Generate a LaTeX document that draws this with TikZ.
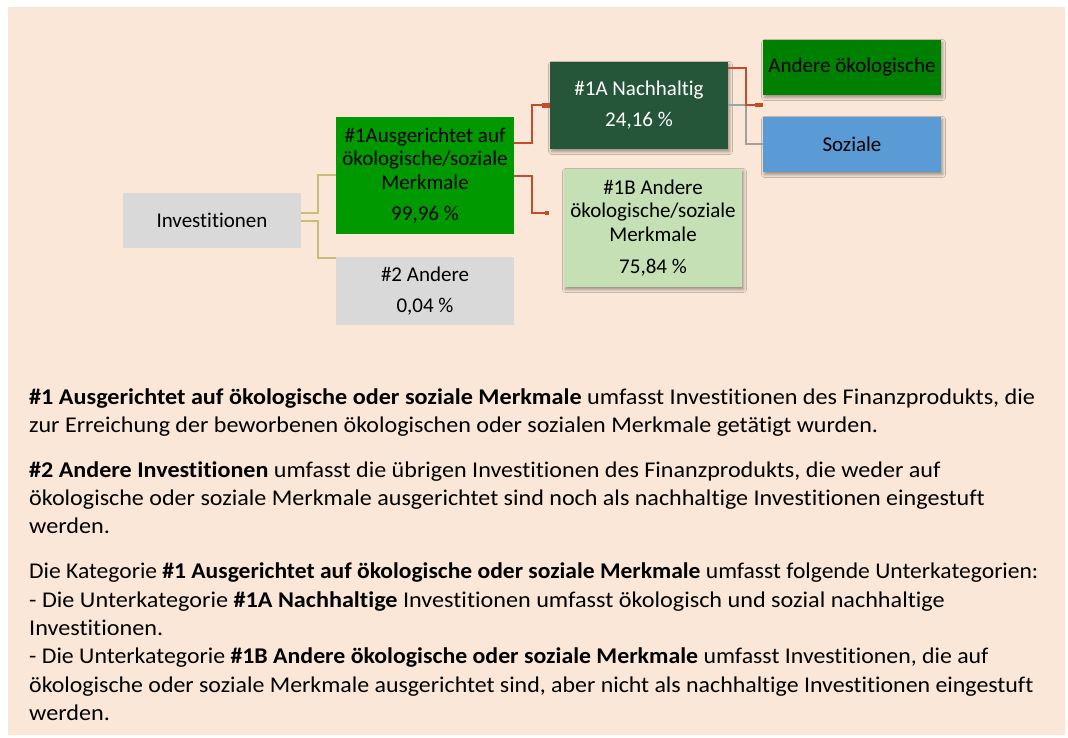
\documentclass[tikz,border=0pt]{standalone}
\usepackage{fontspec}
\setmainfont{Carlito}[Ligatures=NoCommon]
\newfontfamily\bodyfont{Carlito}[Ligatures=NoCommon, FakeStretch=1.075]
\usetikzlibrary{shadows.blur,arrows.meta,calc}
\definecolor{bg}{RGB}{250,231,215}
\definecolor{boxgray}{RGB}{217,217,217}
\definecolor{midgreen}{RGB}{0,153,0}
\definecolor{darkgreen}{RGB}{38,86,58}
\definecolor{lightgreen}{RGB}{197,224,180}
\definecolor{puregreen}{RGB}{0,128,0}
\definecolor{skyblue}{RGB}{91,155,213}
\definecolor{olivecon}{RGB}{201,189,120}
\definecolor{redcon}{RGB}{196,76,44}
\definecolor{graycon}{RGB}{160,160,160}
\begin{document}
\begin{tikzpicture}[x=1pt,y=-1pt,
  box/.style={rectangle, inner sep=0pt, minimum width=178pt, align=center,
    font=\fontsize{21}{23.5}\selectfont},
  shad/.style={blur shadow={shadow xshift=1.5pt, shadow yshift=-2.5pt,
    shadow blur steps=6, shadow opacity=40, shadow blur radius=3pt}},
  olivelink/.style={draw=olivecon, line width=2pt},
  redlink/.style={draw=redcon, line width=2pt},
  graylink/.style={draw=graycon, line width=2pt},
  bodyline/.style={anchor=base west, inner sep=0pt, font=\bodyfont\fontsize{22.5}{28}\selectfont}
]
\useasboundingbox (0,0) rectangle (1068,738);
\fill[white] (0,0) rectangle (1068,738);
\fill[bg] (8,7) rectangle (1065,735);

% boxes
\node[box, fill=boxgray, minimum height=55pt] (inv) at (212,220.5) {Investitionen};
\node[box, fill=midgreen, minimum height=117pt] (g1) at (425,175.5)
  {\#1Ausgerichtet auf\\ökologische/soziale\\Merkmale\\[8pt]99,96 \%};
\node[box, fill=boxgray, minimum height=68pt] (g2) at (425,291)
  {\#2 Andere\\[7.5pt]0,04 \%};
\node[box, shad, fill=darkgreen, text=white, minimum height=87pt] (a1) at (639,105.5)
  {\#1A Nachhaltig\\[7.5pt]24,16 \%};
\node[box, shad, fill=lightgreen, minimum height=118pt] (b1) at (653,228)
  {\#1B Andere\\ökologische/soziale\\Merkmale\\[9pt]75,84 \%};
\node[box, shad, fill=puregreen, minimum height=55pt] (ao) at (852,67.5) {Andere ökologische};
\node[box, shad, fill=skyblue, minimum height=55pt] (so) at (852,144.5) {Soziale};

% connectors
\draw[olivelink] ([yshift=7.5pt]inv.east) -- ++(17,0) |- (g1.west);
\draw[olivelink] ([yshift=-0.5pt]inv.east) -- ++(17,0) |- ([yshift=-1pt]g2.north west);
\draw[redlink, -{Rectangle[length=8pt,width=4.5pt]}] ([yshift=32.5pt]g1.east) -- ++(18,0) |- (a1.west);
\coordinate (b1in) at ([xshift=-15pt,yshift=15pt]b1.west);
\draw[redlink, -{Rectangle[length=4pt,width=4.5pt]}] ([yshift=-0.5pt]g1.east) -- ++(18,0) |- (b1in);
\draw[graylink] (a1.east) -- ++(18,0) |- (so.west);
\draw[redlink, -{Rectangle[length=8pt,width=4.5pt]}] ([yshift=37.5pt]a1.east) -- ++(18,0) |- ([yshift=-37.5pt]ao.west);

% text
\node[bodyline] (t1) at (29,404) {\textbf{\#1 Ausgerichtet auf ökologische oder soziale Merkmale} umfasst Investitionen des Finanzprodukts, die};
\node[bodyline] (t2) at (29,432) {\scalebox{0.994}[1]{zur Erreichung der beworbenen ökologischen oder sozialen Merkmale getätigt wurden.}};
\node[bodyline] (t3) at (29,477) {\scalebox{0.996}[1]{\textbf{\#2 Andere Investitionen} umfasst die übrigen Investitionen des Finanzprodukts, die weder auf}};
\node[bodyline] (t4) at (29,505) {\scalebox{0.995}[1]{ökologische oder soziale Merkmale ausgerichtet sind noch als nachhaltige Investitionen eingestuft}};
\node[bodyline] (t5) at (29,533) {werden.};
\node[bodyline] (t6) at (29,578) {\scalebox{0.974}[1]{Die Kategorie \textbf{\#1 Ausgerichtet auf ökologische oder soziale Merkmale} umfasst folgende Unterkategorien:}};
\node[bodyline] (t7) at (29,607) {- Die Unterkategorie \textbf{\#1A Nachhaltige} Investitionen umfasst ökologisch und sozial nachhaltige};
\node[bodyline] (t8) at (29,635) {Investitionen.};
\node[bodyline] (t9) at (29,663) {\scalebox{0.985}[1]{- Die Unterkategorie \textbf{\#1B Andere ökologische oder soziale Merkmale} umfasst Investitionen, die auf}};
\node[bodyline] (t10) at (29,692) {\scalebox{0.987}[1]{ökologische oder soziale Merkmale ausgerichtet sind, aber nicht als nachhaltige Investitionen eingestuft}};
\node[bodyline] (t11) at (29,720) {werden.};
\end{tikzpicture}
\end{document}
